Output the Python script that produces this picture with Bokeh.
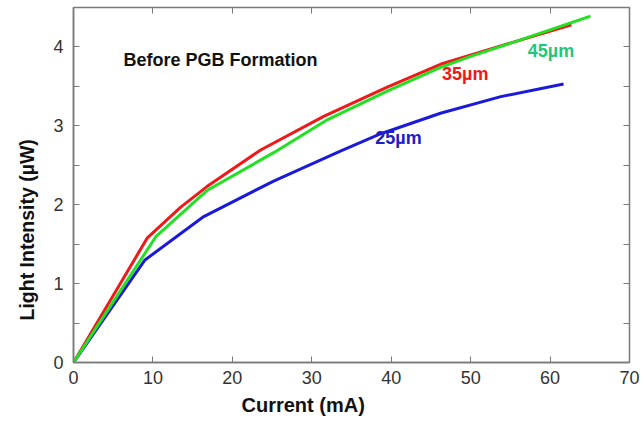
from bokeh.plotting import figure
from bokeh.models import FixedTicker, LinearAxis, Label, Title
from bokeh.embed import file_html
from bokeh.resources import INLINE

# Data (Current mA vs Light Intensity uW)
x_25 = [0, 9.0, 16.4, 25.2, 30.3, 33.6, 38.7, 46.2, 53.8, 61.7]
y_25 = [0, 1.30, 1.85, 2.30, 2.53, 2.68, 2.90, 3.16, 3.37, 3.53]
x_35 = [0, 9.3, 13.5, 16.8, 23.5, 31.5, 39.5, 46.2, 54, 62.7]
y_35 = [0, 1.58, 1.97, 2.23, 2.69, 3.12, 3.49, 3.78, 4.02, 4.28]
x_45 = [0, 10.4, 16.8, 25.2, 32, 39.5, 46.2, 50, 56, 65.1]
y_45 = [0, 1.60, 2.18, 2.66, 3.08, 3.44, 3.74, 3.88, 4.08, 4.39]

x_ticks = [0, 10, 20, 30, 40, 50, 60, 70]
y_ticks = [0, 1, 2, 3, 4]
y_minor = [0.5, 1.5, 2.5, 3.5, 4.5]

FONT = "Liberation Sans"
GREY = "#7a7a7a"

p = figure(width=643, height=421, x_range=(0, 70), y_range=(0, 4.5),
           output_backend="svg", toolbar_location=None,
           min_border_left=73, min_border_right=14, min_border_top=7, min_border_bottom=59)
p.grid.visible = False
p.outline_line_color = GREY
p.outline_line_width = 1.5
p.background_fill_color = "white"
p.border_fill_color = "white"

for ax in (p.xaxis[0], p.yaxis[0]):
    ax.axis_line_color = GREY
    ax.axis_line_width = 1.5
    ax.major_tick_line_color = GREY
    ax.minor_tick_line_color = GREY
    ax.major_tick_in = 6
    ax.major_tick_out = 0
    ax.minor_tick_in = 6
    ax.minor_tick_out = 0
    ax.major_label_text_font = FONT
    ax.major_label_text_font_size = "18px"
    ax.major_label_text_color = "#333333"

p.xaxis[0].ticker = FixedTicker(ticks=x_ticks, minor_ticks=[])
p.yaxis[0].ticker = FixedTicker(ticks=y_ticks, minor_ticks=y_minor)
p.xaxis[0].major_label_standoff = 8
p.yaxis[0].major_label_standoff = 10

# mirrored tick axes (no labels)
top = LinearAxis(ticker=FixedTicker(ticks=x_ticks, minor_ticks=[]))
right = LinearAxis(ticker=FixedTicker(ticks=y_ticks, minor_ticks=y_minor))
for ax in (top, right):
    ax.axis_line_color = None
    ax.major_tick_line_color = GREY
    ax.minor_tick_line_color = GREY
    ax.major_tick_in = 6
    ax.major_tick_out = 0
    ax.minor_tick_in = 6
    ax.minor_tick_out = 0
    ax.major_label_text_font_size = "0px"
    ax.major_label_text_color = None
    ax.major_label_standoff = 0
p.add_layout(top, "above")
p.add_layout(right, "right")

# axis titles (placed as in the original, slightly off-centre)
p.add_layout(Title(text="Current (mA)", align="left", offset=168, standoff=11,
                   text_color="#111111", text_font=FONT, text_font_size="20px",
                   text_font_style="bold"), "below")
p.add_layout(Title(text="Light Intensity (µW)", align="left", offset=42, standoff=25,
                   text_color="#111111", text_font=FONT, text_font_size="19.5px",
                   text_font_style="bold"), "left")

p.line(x_25, y_25, line_color="#1a1ad8", line_width=3)
p.line(x_35, y_35, line_color="#f01818", line_width=3)
p.line(x_45, y_45, line_color="#22e022", line_width=3)

labels = [
    ("Before PGB Formation", 6.3, 3.84, "#111111"),
    ("35µm", 46.4, 3.66, "#f01818"),
    ("45µm", 57.2, 3.95, "#1ec87a"),
    ("25µm", 38.0, 2.84, "#2020c0"),
]
for txt, lx, ly, col in labels:
    p.add_layout(Label(x=lx, y=ly, text=txt, text_color=col, text_font=FONT,
                       text_font_size="18px", text_font_style="bold",
                       text_baseline="middle", text_align="left"))

open("out.html", "w").write(file_html(p, INLINE))
